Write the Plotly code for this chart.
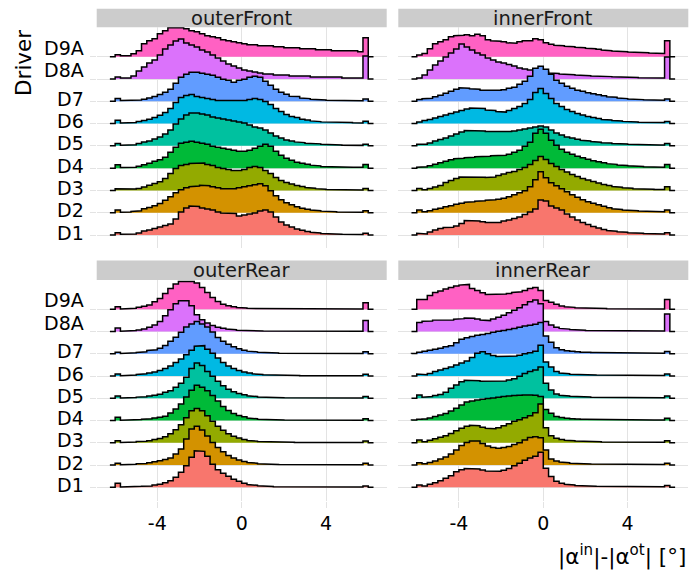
import plotly.graph_objects as go

# ---------------- data ----------------
drivers = ["D1", "D2", "D3", "D4", "D5", "D6", "D7", "D8A", "D9A"]
facets = ["outerFront", "innerFront", "outerRear", "innerRear"]
colors = ["#F8766D", "#D39200", "#93AA00", "#00BA38", "#00C19F",
          "#00B9E3", "#619CFF", "#DB72FB", "#FF61C3"]
x_tick_vals = [-4, 0, 4]
x_tick_text = ["-4", "0", "4"]
bin_start = -6.25
bin_width = 0.25
density_per_row = 22.3   # histogram height units per ridge row

# outerFront
oF_D9A = [0,2,1,1,3,6,13,16,18,23,26,29,29,29,28,26,25,23,21,20,19,17,16,15,14,13,12,12,11,11,11,10,10,9,9,9,8,8,8,7,7,7,6,6,6,6,6,5,19,0]
oF_D8A = [0,2,1,1,3,8,12,16,19,24,30,34,38,40,36,34,32,29,27,24,21,18,15,13,11,9,8,7,6,5,5,4,4,4,3,3,3,3,2,2,2,2,2,2,1,1,1,1,23,0]
oF_D7 = [0,2.7,0.7,0.7,1,1.3,2,3.3,4.7,6.7,9,12,18,24,27,29,29,28,27,26,24,22,21,19,21,22,24,25,24,20,16,12,9,7,5,4.7,3.3,2.7,2,1.7,1.3,1,1,0.7,0.7,0.7,0.5,0.5,2.3,0]
oF_D6 = [0,3.3,0.7,0.7,1,2,3,4.3,6,8.3,11,15,21,26,28,29,27,26,25,24,23,23,23,22.5,23,23,24,25,24,22,19,15,12,9,7,6,4.3,3.5,2.7,2,1.7,1.3,1.1,1,1,1,0.8,0.7,2.3,0]
oF_D5 = [0,2.3,0.7,0.7,1,2.3,4,5,7,9,12,16,22,27,31,33,33,32,31,29,28,27,26,25,24,23,21,19,18,16,13,10,8,6,5,4,3.3,2.7,2.3,2,1.5,1.2,1,0.8,0.7,0.7,0.6,0.5,1.7,0]
oF_D4 = [0,3.3,0.7,0.7,1,2,3.5,5,7,8.5,11,16,21,25,26,27,26,25,24,22,21,20,19,18,17,17,18,20,22,24,22,17,13,10,8,6,5,4,3,2.3,1.7,1.3,1.2,1,1,1,0.8,0.8,3.7,0]
oF_D3 = [0,1.7,1,1,1.5,2,3.5,5.3,7,8.7,12,17,22,25,26,27,27,27.5,26,25,23,22,21,20,20,21,23,24,23,20,17,13,10,8,6.5,5,4,3,2.3,1.8,1.3,1,1,0.8,0.7,0.6,0.5,0.5,2,0]
oF_D2 = [0,2.7,0.5,0.7,1.3,2,4,5.3,7,9.3,12.5,16,20,23,25,26,26.7,27.5,27,26,25,24,24,24,25,26,27,28,29,27,22,17,13,10,8,6,4.5,3.5,2.7,2,1.6,1.3,1,0.8,0.7,0.6,0.5,0.5,2,0]
oF_D1 = [0,2.3,0.7,0.7,1,2,4,5,6.5,8,9.5,11,16,23,27,29,28.5,27,26,25,23,22,22,21.5,19,20,21,22,24,25,23,18,13,10,8,6,4.7,3.5,2.7,2,1.5,1.2,1,0.8,0.7,0.6,0.6,0.5,1.7,0]

# innerFront
iF_D9A = [0,1.7,3.3,8,13,15,17,20,21,21.5,22,21,22.5,21,17,16,15.5,15,14,13.5,15,16,16,18,17,14,12.5,11.5,11,10.5,10,9.5,9,8.5,8,7.5,6.7,6,5.7,5.3,5,4.7,4.5,4.3,4,3.7,3.5,3.3,16,0]
iF_D8A = [0,1,4,9,14,18,22,26,30,35,32,29,26,24,21,19,17,16,14.5,13,11,10,9,8,7.5,7,6,5.5,5,4.7,4.3,4,3.7,3.3,3,2.8,2.6,2.4,2.2,2,1.8,1.6,1.5,1.3,1.2,1.1,1,1,22,0]
iF_D7 = [0,1.7,2.5,3,4.5,6,8,10,12,13.5,13,12.5,12,11,10.7,10.7,11,11.5,13,14,17,20,25,33,35,32,27,21,18,15,13,11,10,8.5,7.5,6.5,5.5,4.5,4,3.3,2.7,2.3,2,1.7,1.5,1.3,1.1,1,2.3,0]
iF_D6 = [0,1.7,3,4,5.5,7,8.5,10,11.5,13,14.5,15.5,15.5,15,13.5,13,12,11.5,13,15,17,20,24,31,35,30,25,20,17,14,12,10,8.5,7,6,5,4,3.5,3,2.5,2.2,1.8,1.5,1.3,1.2,1.1,1,1,2,0]
iF_D5 = [0,1.7,1.7,3,5,6.5,8,10,12,14,15.3,15.7,15.5,15,14.5,14,14,14,14.5,15,16,17,18,19,20,19,16,13,11,9,8,6.7,5.7,5,4.3,3.7,3.2,2.8,2.4,2,1.8,1.6,1.4,1.2,1.1,1,0.9,0.8,2.3,0]
iF_D4 = [0,1,1.5,2.5,4,5.5,7,8.5,9.5,10,10.5,11,11.5,12,12,12.5,12.7,13,14,16,18,22,26,35,39,35,28,23,19,16,14,12,10.5,9,7.5,6.5,5.5,4.5,3.8,3.2,2.7,2.3,2,1.7,1.5,1.3,1.1,1,3.7,0]
iF_D3 = [0,2,0.7,2,3.5,5,8,10,12,13.5,14,14,13.7,13.3,13,13.5,15,16.5,18,19,21,23,26,30,34,31,27,24,21,18.5,16,14,12,10.5,9,7.5,6,5,4,3.3,2.7,2.2,1.8,1.5,1.3,1.1,1,1,3.7,0]
iF_D2 = [0,2.7,1,2,3.5,4.5,6,7,8.5,9.5,10.5,11,11.5,12,12.5,13,13.5,14.5,16,18,20,22,26,33,41,35,30,27,24,21,18,15.5,13,11,9.5,8,6.5,5,4,3.3,2.7,2.3,2,1.7,1.5,1.3,1.2,1,2.7,0]
iF_D1 = [0,1.7,1,3,5,6.5,7.5,7.7,9,11.5,14.5,14.7,14,13.3,12.5,12,12.5,14,15,16.5,18,20.5,23,26,35,34,29,27,25,21,18,15,12.5,10.5,8.5,7,5.5,4.5,3.8,3.2,2.7,2.3,2,1.7,1.5,1.3,1.2,1.1,2.3,0]

# outerRear
oR_D9A = [0,2.7,0.3,0.5,1,2,3,4.3,7.5,11,16,21,25.5,28,28.7,28,26.5,22,17,12,8,5,3.7,2.7,1.8,1.3,1,0.8,0.7,0.6,0.5,0.5,0.5,0.5,0.4,0.4,0.4,0.4,0.4,0.4,0.3,0.3,0.3,0.3,0.3,0.3,0.3,0.3,6.7,0]
oR_D8A = [0,3.7,0.3,0.5,1,1.7,2.7,4.3,6.5,10,16,22,28,31,31,26,17,12,8.5,6,4.3,3.3,2.5,1.8,1.3,1,0.8,0.7,0.6,0.5,0.5,0.5,0.5,0.4,0.4,0.4,0.4,0.4,0.4,0.4,0.3,0.3,0.3,0.3,0.3,0.3,0.3,0.3,11,0]
oR_D7 = [0,1.7,0.3,0.5,1,1.3,2,3.3,4,5.7,8.3,12.7,16.7,21.7,27,30,32.5,30,27,22,16.5,12.7,9.5,7,5,3.7,2.7,2,1.5,1.2,1,0.8,0.7,0.5,0.5,0.5,0.4,0.4,0.4,0.4,0.4,0.3,0.3,0.3,0.3,0.3,0.3,0.3,2,0]
oR_D6 = [0,2,0.3,0.5,1,1.5,2.2,3,4,5.5,7.5,10,13.5,17,21.5,26,30,30.5,27,23,18,13.5,10,7.5,5.5,4,3,2.2,1.6,1.2,1,0.8,0.7,0.5,0.5,0.5,0.4,0.4,0.4,0.4,0.4,0.3,0.3,0.3,0.3,0.3,0.3,0.3,1.7,0]
oR_D5 = [0,2.3,0.3,0.5,0.8,1.2,1.6,2.2,3,4,6,7.7,11,15,21,30,35.5,33,27,22,17,12.5,9,6.5,4.7,3.5,2.5,1.8,1.3,1,0.8,0.7,0.6,0.5,0.5,0.5,0.4,0.4,0.4,0.4,0.4,0.3,0.3,0.3,0.3,0.3,0.3,0.3,1.7,0]
oR_D4 = [0,3.3,0.3,0.5,0.7,1,1.3,1.8,2.5,3.3,4.3,7.5,11.5,16.5,23.5,30.5,35.5,33.5,30,25,19.5,14,10,7,5,3.7,2.5,1.8,1.3,1,0.8,0.7,0.6,0.5,0.5,0.5,0.4,0.4,0.4,0.4,0.4,0.3,0.3,0.3,0.3,0.3,0.3,0.3,1.7,0]
oR_D3 = [0,2,0.3,0.5,0.8,1.2,1.6,2,3.2,4.3,6,9,13,18,25,32,34.3,32,27,21.5,16.5,12.5,9,6.5,4.7,3.3,2.3,1.7,1.2,0.9,0.7,0.6,0.5,0.5,0.5,0.4,0.4,0.4,0.4,0.4,0.3,0.3,0.3,0.3,0.3,0.3,0.3,0.3,1.7,0]
oR_D2 = [0,1.7,0.3,0.5,0.8,1.2,1.6,2.3,3.3,4.3,5.5,7,11,16,26,36,39,35,29,22.5,17.5,13.3,9.5,7,5,3.5,2.5,1.8,1.3,1,0.8,0.6,0.5,0.5,0.5,0.4,0.4,0.4,0.4,0.4,0.3,0.3,0.3,0.3,0.3,0.3,0.3,0.3,1.7,0]
oR_D1 = [0,4,0.3,0.5,0.7,0.9,1.1,1.3,2.2,3,4.5,6.5,10,15,21.5,30,36.5,36,31,23,17.5,14,11,8,6,4,2.7,2,1.4,1,0.8,0.6,0.5,0.5,0.5,0.4,0.4,0.4,0.4,0.4,0.3,0.3,0.3,0.3,0.3,0.3,0.3,0.3,1.3,0]

# innerRear
iR_D9A = [0,10,10,14,17,18.5,20.5,22,23.3,24.3,25,21,19,16.7,15,15,15,15.5,16,17,17.7,19,21,22,19,9,7,5,3.3,2.5,2,1.5,1.3,1.1,1,0.9,0.8,0.7,0.6,0.6,0.6,0.5,0.5,0.5,0.5,0.4,0.4,0.4,10,0]
iR_D8A = [0,9,10.3,10.7,11.5,11.7,11.7,11.7,12.5,13,13.7,13.3,12.7,11.5,11,12.7,14.5,16.5,19,21.5,24,27,30,31.7,28,10,6.5,4.3,3.2,2.5,2,1.7,1.4,1.2,1.1,1,0.9,0.8,0.7,0.7,0.7,0.6,0.6,0.6,0.6,0.5,0.5,0.5,17.7,0]
iR_D7 = [0.3,1.7,2.5,3.5,4.5,5.7,7,8,11,14.5,16,17.3,18.7,19.3,20.5,21.7,22.7,23.3,24.3,25.5,26.7,28,28.7,29.7,31.3,18,11.7,6,4,3.2,2.5,2,1.7,1.5,1.3,1.2,1.1,1,0.9,0.9,0.8,0.8,0.8,0.7,0.7,0.7,0.6,0.6,2.3,0]
iR_D6 = [0,2,1.3,2.7,4.5,6,7.7,9,11,13,15,18.5,23,24.3,22.5,20.5,19.7,19.3,19.5,20,21,22.3,23.5,25,31,14,9,4.5,3,2.3,1.8,1.5,1.3,1.2,1.1,1,0.9,0.9,0.8,0.8,0.8,0.7,0.7,0.7,0.6,0.6,0.6,0.5,2,0]
iR_D5 = [0,3.3,1,1.7,2.7,3.7,6,10,13.3,16.7,18,18.3,17.7,17.2,16.7,16.7,16.7,17.3,18.3,19.5,22,25,27,28.5,31.5,15,8.3,4.3,3,2.3,2,1.7,1.5,1.3,1.1,1,0.9,0.9,0.8,0.8,0.8,0.7,0.7,0.7,0.6,0.6,0.6,0.5,2.3,0]
iR_D4 = [0.5,1.3,1.5,2.5,4,5.5,7,9.5,12.3,15.5,18.5,19.5,20.5,21.3,22,22.5,23.3,24,24.5,25,25.3,25.5,25.7,25.3,24,11,7.3,4,3,2.3,1.8,1.5,1.3,1.2,1.1,1,0.9,0.9,0.8,0.8,0.8,0.7,0.7,0.7,0.6,0.6,0.6,0.5,2.3,0]
iR_D3 = [0,2.7,1,2.5,4,5.5,7,9.3,12,14.5,16.5,17.5,17,15.5,14.5,14,15,17,19,21.5,23,25,27,30,39,15,7,4.5,3.3,2.5,2,1.7,1.4,1.2,1.1,1,0.9,0.9,0.8,0.8,0.8,0.7,0.7,0.7,0.6,0.6,0.6,0.5,2,0]
iR_D2 = [0,2.3,1.3,2.5,4,6,8,11,15,19.5,22.5,24,24,21.7,19,17.5,16.7,17.5,18.5,20.5,22.3,25,27.5,28.3,27.3,15,6,4,3,2.3,1.8,1.5,1.3,1.1,1,0.9,0.9,0.8,0.8,0.8,0.7,0.7,0.7,0.6,0.6,0.6,0.5,0.5,1.7,0]
iR_D1 = [0,2.3,1.3,3,4.5,6.5,9,11.5,15.5,17.5,18.7,19,18.3,17.3,16.3,15.7,16,17,18.7,21.5,24,27,29.3,31,35,19,10.7,6,4,3,2.3,1.8,1.5,1.3,1.1,1,1,0.9,0.9,0.8,0.8,0.8,0.7,0.7,0.7,0.6,0.6,0.6,1.7,0]

facet_data = {
    "outerFront": [oF_D1, oF_D2, oF_D3, oF_D4, oF_D5, oF_D6, oF_D7, oF_D8A, oF_D9A],
    "innerFront": [iF_D1, iF_D2, iF_D3, iF_D4, iF_D5, iF_D6, iF_D7, iF_D8A, iF_D9A],
    "outerRear": [oR_D1, oR_D2, oR_D3, oR_D4, oR_D5, oR_D6, oR_D7, oR_D8A, oR_D9A],
    "innerRear": [iR_D1, iR_D2, iR_D3, iR_D4, iR_D5, iR_D6, iR_D7, iR_D8A, iR_D9A],
}

# ---------------- layout geometry ----------------
W, H = 689, 577
col_px = [(96.7, 386.7), (398.3, 688.3)]
row_px = [(27.3, 248.4), (280.0, 500.6)]
strip_px = [(8.8, 27.3), (260.5, 280.0)]
y_range = [0.4, 10.32]
x_range = [-6.875, 6.875]
grid_col = "#e3e3e3"
FONT = "DejaVu Sans"
label_right_px = 85.5


def px2x(p):
    return p / W


def px2y(p):
    return 1 - p / H


def step_xy(h, base):
    xs = [bin_start]
    ys = [base]
    for i, v in enumerate(h):
        x0 = bin_start + i * bin_width
        xs += [x0, x0 + bin_width]
        ys += [base + v / density_per_row] * 2
    xs.append(bin_start + len(h) * bin_width)
    ys.append(base)
    return xs, ys


fig = go.Figure()
layout = dict(
    width=W, height=H, margin=dict(l=0, r=0, t=0, b=0, autoexpand=False),
    plot_bgcolor="white", paper_bgcolor="white", showlegend=False,
    font=dict(family=FONT, color="black"),
)
shapes = []
annotations = []

for k, facet in enumerate(facets):
    r, c = divmod(k, 2)
    ax = "" if k == 0 else str(k + 1)
    xname, yname = "x" + ax, "y" + ax
    x0p, x1p = col_px[c]
    y0p, y1p = row_px[r]
    layout["xaxis" + ax] = dict(
        domain=[px2x(x0p), px2x(x1p)], range=x_range, anchor=yname, automargin=False,
        tickvals=x_tick_vals, ticktext=x_tick_text,
        showgrid=True, gridcolor=grid_col, gridwidth=1, zeroline=False, showline=False,
        ticks="outside" if r == 1 else "", ticklen=6, tickcolor=grid_col,
        showticklabels=(r == 1), tickfont=dict(size=19, family=FONT, color="black"),
    )
    layout["yaxis" + ax] = dict(
        domain=[px2y(y1p), px2y(y0p)], range=y_range, anchor=xname, automargin=False,
        tickvals=list(range(1, len(drivers) + 1)),
        showgrid=True, gridcolor=grid_col, gridwidth=1, zeroline=False, showline=False,
        ticks="outside" if c == 0 else "", ticklen=6, tickcolor=grid_col,
        showticklabels=False,
    )
    # driver labels for the left column (real text, placed at each ridge baseline)
    if c == 0:
        for j, name in enumerate(drivers):
            annotations.append(dict(text=name, xref="paper", yref=yname,
                                    x=px2x(label_right_px), y=j + 1,
                                    xanchor="right", yanchor="middle",
                                    yshift=9 if len(name) == 3 else 2.5,
                                    showarrow=False,
                                    font=dict(size=19, family=FONT, color="black")))
    # strip
    s0, s1 = strip_px[r]
    shapes.append(dict(type="rect", xref="paper", yref="paper",
                       x0=px2x(x0p), x1=px2x(x1p), y0=px2y(s1), y1=px2y(s0),
                       fillcolor="#cccccc", line=dict(width=0), layer="below"))
    annotations.append(dict(text=facet, xref="paper", yref="paper",
                            x=px2x((x0p + x1p) / 2), y=px2y((s0 + s1) / 2),
                            xanchor="center", yanchor="middle", showarrow=False,
                            font=dict(size=19.5, family=FONT, color="#1a1a1a")))
    # ridges: top ones first so lower ridges are drawn over them
    for j in reversed(range(len(drivers))):
        xs, ys = step_xy(facet_data[facet][j], j + 1)
        fig.add_trace(go.Scatter(x=xs, y=ys, mode="lines", fill="toself",
                                 fillcolor=colors[j], line=dict(width=0, color=colors[j]),
                                 hoverinfo="skip", xaxis=xname, yaxis=yname))
        fig.add_trace(go.Scatter(x=xs, y=ys, mode="lines",
                                 line=dict(width=1.5, color="black"),
                                 name=drivers[j], xaxis=xname, yaxis=yname))

annotations.append(dict(text="Driver", xref="paper", yref="paper",
                        x=px2x(24), y=px2y(63), textangle=-90,
                        xanchor="center", yanchor="middle", showarrow=False,
                        font=dict(size=21.5, family=FONT, color="black")))
annotations.append(dict(text="|α<sup>in</sup>|-|α<sup>ot</sup>| [°]", xref="paper", yref="paper",
                        x=px2x(688), y=px2y(555), xanchor="right", yanchor="middle",
                        showarrow=False, font=dict(size=21.5, family=FONT, color="black")))

layout["shapes"] = shapes
layout["annotations"] = annotations
fig.update_layout(**layout)
fig.write_html("out.html", config={"displayModeBar": False},
               post_script="document.body.style.margin='0px';document.body.style.overflow='hidden';")
